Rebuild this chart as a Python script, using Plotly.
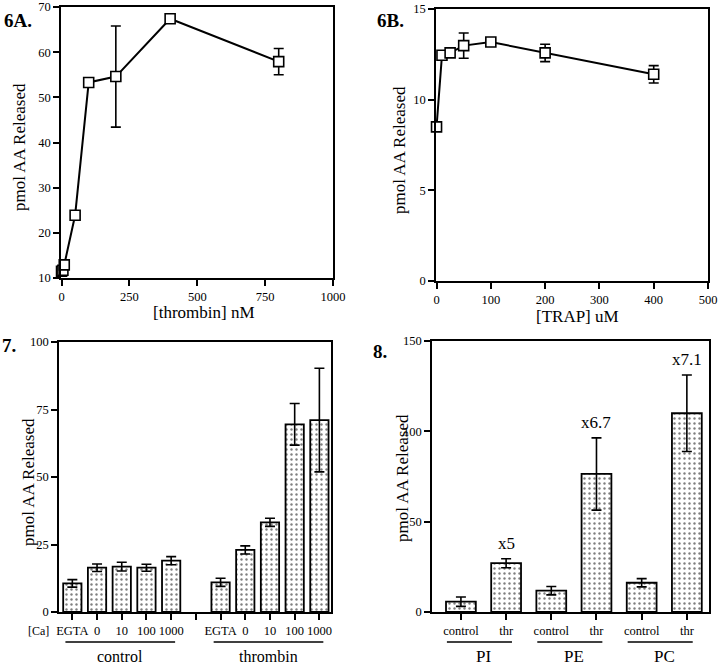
import plotly.graph_objects as go

# 6A: thrombin dose response
thr_nm = [0, 5, 10, 50, 100, 200, 400, 800]
thr_aa = [11.5, 11.7, 12.9, 23.9, 53.3, 54.6, 67.4, 57.9]
thr_err = [0, 0, 0, 0, 0, 11.2, 0, 2.9]

# 6B: TRAP dose response
trap_um = [0, 10, 25, 50, 100, 200, 400]
trap_aa = [8.5, 12.45, 12.58, 12.98, 13.18, 12.58, 11.4]
trap_err = [0, 0, 0, 0.7, 0.12, 0.48, 0.48]

# 7: calcium dependence
ca_labels = ["EGTA", "0", "10", "100", "1000"]
ca_control = [10.6, 16.4, 16.8, 16.4, 19.0]
ca_control_err = [1.4, 1.4, 1.6, 1.3, 1.5]
ca_thrombin = [11.0, 23.0, 33.2, 69.5, 71.1]
ca_thrombin_err = [1.5, 1.5, 1.5, 7.7, 19.2]

# 8: phospholipid classes
lipids = ["PI", "PE", "PC"]
lip_control = [5.7, 11.8, 16.2]
lip_control_err = [2.6, 2.3, 2.3]
lip_thr = [27.0, 76.4, 110.0]
lip_thr_err = [2.5, 20.0, 21.2]
fold = ["x5", "x6.7", "x7.1"]

FONT = "Liberation Serif"
W, H = 720, 665


def fx(x):
    return min(1, max(0, x / W))


def fy(y):
    return min(1, max(0, 1 - y / H))


fig = go.Figure()

marker_sq = dict(symbol="square", size=10, color="white", line=dict(color="black", width=1.6))
err_style = dict(type="data", visible=True, color="black", thickness=1.6, width=5)

fig.add_trace(go.Scatter(
    x=thr_nm, y=thr_aa, mode="lines+markers", cliponaxis=False,
    line=dict(color="black", width=2), marker=marker_sq,
    error_y=dict(array=thr_err, **err_style), xaxis="x", yaxis="y"))

fig.add_trace(go.Scatter(
    x=trap_um, y=trap_aa, mode="lines+markers", cliponaxis=False,
    line=dict(color="black", width=2), marker=marker_sq,
    error_y=dict(array=trap_err, **err_style), xaxis="x2", yaxis="y2"))

bar_marker = dict(color="white", line=dict(color="black", width=1.8),
                  pattern=dict(shape=".", fgcolor="black", bgcolor="white", size=5, solidity=0.18))

pos7_ctrl = list(range(0, 5))
pos7_thr = list(range(6, 11))
fig.add_trace(go.Bar(x=pos7_ctrl, y=ca_control, width=0.74, marker=bar_marker,
                     error_y=dict(array=ca_control_err, **err_style), xaxis="x3", yaxis="y3"))
fig.add_trace(go.Bar(x=pos7_thr, y=ca_thrombin, width=0.74, marker=bar_marker,
                     error_y=dict(array=ca_thrombin_err, **err_style), xaxis="x3", yaxis="y3"))

pos8_ctrl = [0, 2, 4]
pos8_thr = [1, 3, 5]
fig.add_trace(go.Bar(x=pos8_ctrl, y=lip_control, width=0.66, marker=bar_marker,
                     error_y=dict(array=lip_control_err, **err_style), xaxis="x4", yaxis="y4"))
fig.add_trace(go.Bar(x=pos8_thr, y=lip_thr, width=0.66, marker=bar_marker,
                     error_y=dict(array=lip_thr_err, **err_style), xaxis="x4", yaxis="y4"))

axis_common = dict(showline=True, linecolor="black", linewidth=1.6, mirror=True,
                   ticks="outside", ticklen=6, tickwidth=1.5, tickcolor="black",
                   showgrid=False, zeroline=False, automargin=False,
                   ticklabeloverflow="allow",
                   tickfont=dict(family=FONT, size=12.5, color="black"))
x_common = dict(axis_common, tickangle=0)
title_font = dict(family=FONT, size=17, color="black")

fig.update_layout(
    width=W, height=H, margin=dict(l=0, r=0, t=0, b=0),
    paper_bgcolor="white", plot_bgcolor="white", showlegend=False,
    xaxis=dict(domain=[fx(61), fx(333)], anchor="y", range=[-2, 1000],
               tickvals=[0, 250, 500, 750, 1000], **x_common),
    yaxis=dict(domain=[fy(278), fy(7)], anchor="x", range=[10, 70],
               tickvals=[10, 20, 30, 40, 50, 60, 70], **axis_common),
    xaxis2=dict(domain=[fx(436), fx(708)], anchor="y2", range=[-1, 500],
                tickvals=[0, 100, 200, 300, 400, 500], **x_common),
    yaxis2=dict(domain=[fy(281), fy(9)], anchor="x2", range=[0, 15],
                tickvals=[0, 5, 10, 15], **axis_common),
    xaxis3=dict(domain=[fx(59), fx(331)], anchor="y3", range=[-0.54, 10.47],
                tickvals=list(range(11)), ticktext=ca_labels + [""] + ca_labels, **x_common),
    yaxis3=dict(domain=[fy(612), fy(342)], anchor="x3", range=[0, 100],
                tickvals=[0, 25, 50, 75, 100], **axis_common),
    xaxis4=dict(domain=[fx(432), fx(709)], anchor="y4", range=[-0.64, 5.49],
                tickvals=list(range(6)), ticktext=["control", "thr"] * 3, **x_common),
    yaxis4=dict(domain=[fy(612), fy(341)], anchor="x4", range=[0, 150],
                tickvals=[0, 50, 100, 150], **axis_common),
)


def label(txt, x, y, size=17, angle=0, bold=False):
    fig.add_annotation(text="<b>" + txt + "</b>" if bold else txt, x=fx(x), y=fy(y),
                       xref="paper", yref="paper", xanchor="center", yanchor="middle",
                       textangle=angle, showarrow=False,
                       font=dict(family=FONT, size=size, color="black"))


# axis titles
for x, y in [(19, 147), (399, 150), (28, 482), (402, 478)]:
    label("pmol AA Released", x, y, angle=-90)
label("[thrombin] nM", 204, 312)
label("[TRAP] uM", 577, 316)

# panel labels
label("6A.", 18, 21, size=19, bold=True)
label("6B.", 391, 21, size=19, bold=True)
label("7.", 9, 345, size=19, bold=True)
label("8.", 380, 351, size=19, bold=True)

# panel 7 group lines and labels
label("[Ca]", 38, 631, size=12)
for name, a, b in [("control", -0.28, 4.16), ("thrombin", 5.72, 10.16)]:
    fig.add_shape(type="line", xref="x3", yref="paper", x0=a, x1=b, y0=fy(642), y1=fy(642),
                  line=dict(color="black", width=1.6))
    fig.add_annotation(text=name, x=(a + b) / 2, y=fy(656), xref="x3", yref="paper",
                       yanchor="middle", showarrow=False,
                       font=dict(family=FONT, size=16, color="black"))

# panel 8 group lines, labels, fold annotations
for i, name in enumerate(lipids):
    a, b = 2 * i - 0.31, 2 * i + 1.13
    fig.add_shape(type="line", xref="x4", yref="paper", x0=a, x1=b, y0=fy(642), y1=fy(642),
                  line=dict(color="black", width=1.6))
    fig.add_annotation(text=name, x=2 * i + 0.5, y=fy(656), xref="x4", yref="paper",
                       yanchor="middle", showarrow=False,
                       font=dict(family=FONT, size=17, color="black"))
    fig.add_annotation(text=fold[i], x=2 * i + 1, y=lip_thr[i] + lip_thr_err[i], xref="x4", yref="y4",
                       yanchor="bottom", yshift=4, showarrow=False,
                       font=dict(family=FONT, size=17, color="black"))

# drop the browser's default 8px body margin so the figure fills the window
fig.write_html("out.html", config={"displayModeBar": False},
               post_script="document.body.style.margin='0';")
